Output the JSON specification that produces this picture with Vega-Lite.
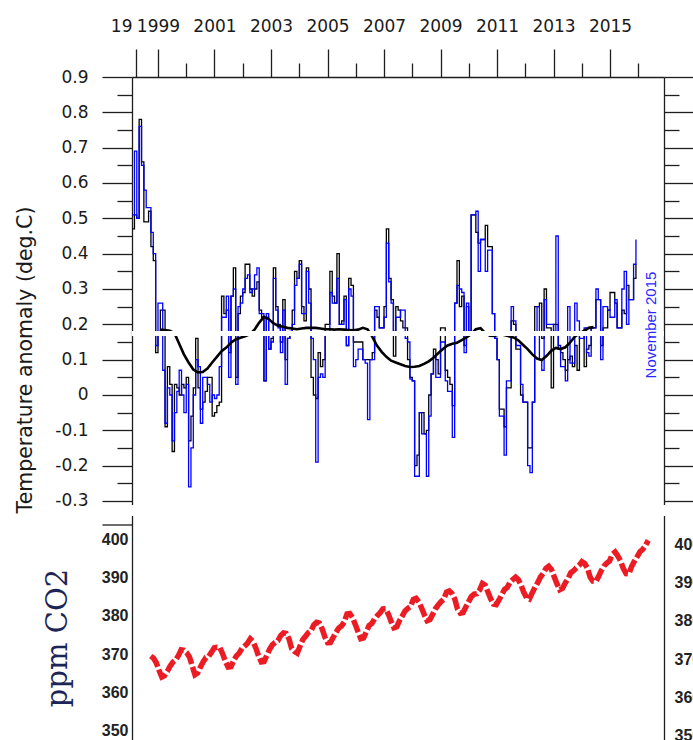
{
"$schema":"https://vega.github.io/schema/vega-lite/v6.json",
"background":"white",
"padding":{"left":15,"top":17,"right":0,"bottom":0},
"bounds":"flush",
"spacing":10.5,
"config":{"view":{"stroke":null},"axis":{"grid":false,"domainColor":"#1e1e1e","tickColor":"#1e1e1e","domainWidth":1.3,"tickWidth":1.3,"labelColor":"#1a1a1a","labelFont":"DejaVu Sans","labelFontSize":17,"titleColor":"#1a1a1a","labelOverlap":false,"labelFlush":false,"zindex":1}},
"datasets":{
"temp":[
{"t":1998.083,"s1":0.47,"s2":0.51},{"t":1998.167,"s1":0.51,"s2":0.69},{"t":1998.25,"s1":0.50,"s2":0.50},{"t":1998.333,"s1":0.78,"s2":0.76},{"t":1998.417,"s1":0.66,"s2":0.65},{"t":1998.5,"s1":0.49,"s2":0.58},{"t":1998.583,"s1":0.49,"s2":0.53},{"t":1998.667,"s1":0.52,"s2":0.53},{"t":1998.75,"s1":0.42,"s2":0.46},{"t":1998.833,"s1":0.38,"s2":0.40},{"t":1998.917,"s1":0.12,"s2":0.14},{"t":1999.0,"s1":0.18,"s2":0.26},
{"t":1999.083,"s1":0.24,"s2":0.26},{"t":1999.167,"s1":0.24,"s2":0.07},{"t":1999.25,"s1":-0.09,"s2":-0.08},{"t":1999.333,"s1":0.08,"s2":0.02},{"t":1999.417,"s1":0.03,"s2":0.00},{"t":1999.5,"s1":-0.16,"s2":-0.13},{"t":1999.583,"s1":0.03,"s2":-0.05},{"t":1999.667,"s1":0.02,"s2":0.01},{"t":1999.75,"s1":0.00,"s2":0.07},{"t":1999.833,"s1":0.03,"s2":0.00},{"t":1999.917,"s1":0.02,"s2":-0.05},{"t":2000.0,"s1":0.05,"s2":0.03},
{"t":2000.083,"s1":-0.13,"s2":-0.26},{"t":2000.167,"s1":-0.06,"s2":-0.15},{"t":2000.25,"s1":0.02,"s2":0.00},{"t":2000.333,"s1":0.16,"s2":0.10},{"t":2000.417,"s1":0.02,"s2":0.08},{"t":2000.5,"s1":-0.04,"s2":-0.08},{"t":2000.583,"s1":-0.02,"s2":0.05},{"t":2000.667,"s1":0.01,"s2":0.05},{"t":2000.75,"s1":0.05,"s2":0.03},{"t":2000.833,"s1":0.05,"s2":-0.02},{"t":2000.917,"s1":-0.06,"s2":0.00},{"t":2001.0,"s1":-0.05,"s2":-0.01},
{"t":2001.083,"s1":-0.03,"s2":0.00},{"t":2001.167,"s1":-0.02,"s2":0.08},{"t":2001.25,"s1":0.28,"s2":0.22},{"t":2001.333,"s1":0.23,"s2":0.22},{"t":2001.417,"s1":0.24,"s2":0.28},{"t":2001.5,"s1":0.12,"s2":0.05},{"t":2001.583,"s1":0.28,"s2":0.28},{"t":2001.667,"s1":0.36,"s2":0.30},{"t":2001.75,"s1":0.05,"s2":0.03},{"t":2001.833,"s1":0.23,"s2":0.25},{"t":2001.917,"s1":0.28,"s2":0.26},{"t":2002.0,"s1":0.29,"s2":0.30},
{"t":2002.083,"s1":0.37,"s2":0.33},{"t":2002.167,"s1":0.37,"s2":0.34},{"t":2002.25,"s1":0.30,"s2":0.29},{"t":2002.333,"s1":0.28,"s2":0.30},{"t":2002.417,"s1":0.30,"s2":0.34},{"t":2002.5,"s1":0.32,"s2":0.36},{"t":2002.583,"s1":0.24,"s2":0.23},{"t":2002.667,"s1":0.22,"s2":0.23},{"t":2002.75,"s1":0.04,"s2":0.04},{"t":2002.833,"s1":0.22,"s2":0.23},{"t":2002.917,"s1":0.13,"s2":0.13},{"t":2003.0,"s1":0.16,"s2":0.15},
{"t":2003.083,"s1":0.36,"s2":0.33},{"t":2003.167,"s1":0.25,"s2":0.24},{"t":2003.25,"s1":0.20,"s2":0.19},{"t":2003.333,"s1":0.15,"s2":0.12},{"t":2003.417,"s1":0.27,"s2":0.24},{"t":2003.5,"s1":0.10,"s2":0.03},{"t":2003.583,"s1":0.16,"s2":0.16},{"t":2003.667,"s1":0.17,"s2":0.18},{"t":2003.75,"s1":0.24,"s2":0.20},{"t":2003.833,"s1":0.35,"s2":0.31},{"t":2003.917,"s1":0.33,"s2":0.33},{"t":2004.0,"s1":0.38,"s2":0.37},
{"t":2004.083,"s1":0.25,"s2":0.23},{"t":2004.167,"s1":0.21,"s2":0.23},{"t":2004.25,"s1":0.36,"s2":0.35},{"t":2004.333,"s1":0.30,"s2":0.26},{"t":2004.417,"s1":0.05,"s2":0.16},{"t":2004.5,"s1":0.00,"s2":0.10},{"t":2004.583,"s1":-0.01,"s2":-0.19},{"t":2004.667,"s1":0.12,"s2":0.05},{"t":2004.75,"s1":0.08,"s2":0.06},{"t":2004.833,"s1":0.10,"s2":0.05},{"t":2004.917,"s1":0.20,"s2":0.17},{"t":2005.0,"s1":0.20,"s2":0.17},
{"t":2005.083,"s1":0.35,"s2":0.29},{"t":2005.167,"s1":0.28,"s2":0.26},{"t":2005.25,"s1":0.26,"s2":0.26},{"t":2005.333,"s1":0.40,"s2":0.33},{"t":2005.417,"s1":0.20,"s2":0.20},{"t":2005.5,"s1":0.21,"s2":0.20},{"t":2005.583,"s1":0.28,"s2":0.27},{"t":2005.667,"s1":0.14,"s2":0.14},{"t":2005.75,"s1":0.33,"s2":0.30},{"t":2005.833,"s1":0.31,"s2":0.28},{"t":2005.917,"s1":0.15,"s2":0.08},{"t":2006.0,"s1":0.15,"s2":0.10},
{"t":2006.083,"s1":0.15,"s2":0.13},{"t":2006.167,"s1":0.15,"s2":0.13},{"t":2006.25,"s1":0.10,"s2":0.10},{"t":2006.333,"s1":0.10,"s2":0.09},{"t":2006.417,"s1":0.10,"s2":-0.07},{"t":2006.5,"s1":0.10,"s2":0.10},{"t":2006.583,"s1":0.12,"s2":0.10},{"t":2006.667,"s1":0.24,"s2":0.25},{"t":2006.75,"s1":0.22,"s2":0.25},{"t":2006.833,"s1":0.19,"s2":0.19},{"t":2006.917,"s1":0.19,"s2":0.19},{"t":2007.0,"s1":0.25,"s2":0.22},
{"t":2007.083,"s1":0.47,"s2":0.43},{"t":2007.167,"s1":0.33,"s2":0.32},{"t":2007.25,"s1":0.27,"s2":0.26},{"t":2007.333,"s1":0.11,"s2":0.18},{"t":2007.417,"s1":0.25,"s2":0.22},{"t":2007.5,"s1":0.24,"s2":0.22},{"t":2007.583,"s1":0.21,"s2":0.24},{"t":2007.667,"s1":0.19,"s2":0.24},{"t":2007.75,"s1":0.19,"s2":0.16},{"t":2007.833,"s1":0.10,"s2":0.15},{"t":2007.917,"s1":0.05,"s2":0.045},{"t":2008.0,"s1":0.04,"s2":0.04},
{"t":2008.083,"s1":-0.20,"s2":-0.23},{"t":2008.167,"s1":-0.17,"s2":-0.23},{"t":2008.25,"s1":-0.05,"s2":-0.05},{"t":2008.333,"s1":-0.05,"s2":-0.11},{"t":2008.417,"s1":-0.11,"s2":-0.11},{"t":2008.5,"s1":-0.10,"s2":-0.23},{"t":2008.583,"s1":0.00,"s2":-0.06},{"t":2008.667,"s1":0.06,"s2":0.06},{"t":2008.75,"s1":0.13,"s2":0.11},{"t":2008.833,"s1":0.10,"s2":0.05},{"t":2008.917,"s1":0.06,"s2":0.05},{"t":2009.0,"s1":0.19,"s2":0.15},
{"t":2009.083,"s1":0.19,"s2":0.15},{"t":2009.167,"s1":0.07,"s2":0.04},{"t":2009.25,"s1":0.05,"s2":0.01},{"t":2009.333,"s1":0.03,"s2":0.01},{"t":2009.417,"s1":-0.03,"s2":-0.12},{"t":2009.5,"s1":0.26,"s2":0.26},{"t":2009.583,"s1":0.38,"s2":0.31},{"t":2009.667,"s1":0.25,"s2":0.30},{"t":2009.75,"s1":0.28,"s2":0.29},{"t":2009.833,"s1":0.14,"s2":0.12},{"t":2009.917,"s1":0.25,"s2":0.26},{"t":2010.0,"s1":0.18,"s2":0.17},
{"t":2010.083,"s1":0.51,"s2":0.51},{"t":2010.167,"s1":0.51,"s2":0.51},{"t":2010.25,"s1":0.46,"s2":0.52},{"t":2010.333,"s1":0.43,"s2":0.35},{"t":2010.417,"s1":0.44,"s2":0.44},{"t":2010.5,"s1":0.44,"s2":0.44},{"t":2010.583,"s1":0.48,"s2":0.35},{"t":2010.667,"s1":0.42,"s2":0.41},{"t":2010.75,"s1":0.42,"s2":0.41},{"t":2010.833,"s1":0.23,"s2":0.23},{"t":2010.917,"s1":0.16,"s2":0.16},{"t":2011.0,"s1":0.10,"s2":0.10},
{"t":2011.083,"s1":-0.04,"s2":-0.06},{"t":2011.167,"s1":-0.04,"s2":-0.06},{"t":2011.25,"s1":-0.09,"s2":-0.17},{"t":2011.333,"s1":0.02,"s2":0.04},{"t":2011.417,"s1":0.02,"s2":0.04},{"t":2011.5,"s1":0.21,"s2":0.25},{"t":2011.583,"s1":0.20,"s2":0.21},{"t":2011.667,"s1":0.13,"s2":0.14},{"t":2011.75,"s1":0.13,"s2":0.14},{"t":2011.833,"s1":0.00,"s2":0.03},{"t":2011.917,"s1":-0.02,"s2":-0.02},{"t":2012.0,"s1":-0.02,"s2":-0.02},
{"t":2012.083,"s1":-0.15,"s2":-0.20},{"t":2012.167,"s1":-0.15,"s2":-0.22},{"t":2012.25,"s1":-0.02,"s2":-0.02},{"t":2012.333,"s1":0.25,"s2":0.17},{"t":2012.417,"s1":0.25,"s2":0.25},{"t":2012.5,"s1":0.26,"s2":0.10},{"t":2012.583,"s1":0.16,"s2":0.07},{"t":2012.667,"s1":0.30,"s2":0.27},{"t":2012.75,"s1":0.19,"s2":0.20},{"t":2012.833,"s1":0.19,"s2":0.20},{"t":2012.917,"s1":0.02,"s2":0.20},{"t":2013.0,"s1":0.20,"s2":0.18},
{"t":2013.083,"s1":0.20,"s2":0.45},{"t":2013.167,"s1":0.13,"s2":0.14},{"t":2013.25,"s1":0.12,"s2":0.08},{"t":2013.333,"s1":0.10,"s2":0.08},{"t":2013.417,"s1":0.07,"s2":0.04},{"t":2013.5,"s1":0.10,"s2":0.25},{"t":2013.583,"s1":0.11,"s2":0.09},{"t":2013.667,"s1":0.08,"s2":0.09},{"t":2013.75,"s1":0.14,"s2":0.26},{"t":2013.833,"s1":0.07,"s2":0.21},{"t":2013.917,"s1":0.17,"s2":0.16},{"t":2014.0,"s1":0.17,"s2":0.16},
{"t":2014.083,"s1":0.08,"s2":0.19},{"t":2014.167,"s1":0.13,"s2":0.12},{"t":2014.25,"s1":0.14,"s2":0.11},{"t":2014.333,"s1":0.19,"s2":0.19},{"t":2014.417,"s1":0.19,"s2":0.19},{"t":2014.5,"s1":0.27,"s2":0.30},{"t":2014.583,"s1":0.27,"s2":0.27},{"t":2014.667,"s1":0.14,"s2":0.10},{"t":2014.75,"s1":0.19,"s2":0.25},{"t":2014.833,"s1":0.19,"s2":0.25},{"t":2014.917,"s1":0.24,"s2":0.24},{"t":2015.0,"s1":0.29,"s2":0.22},
{"t":2015.083,"s1":0.29,"s2":0.22},{"t":2015.167,"s1":0.26,"s2":0.27},{"t":2015.25,"s1":0.19,"s2":0.19},{"t":2015.333,"s1":0.19,"s2":0.19},{"t":2015.417,"s1":0.24,"s2":0.30},{"t":2015.5,"s1":0.23,"s2":0.35},{"t":2015.583,"s1":0.31,"s2":0.20},{"t":2015.667,"s1":0.27,"s2":0.27},{"t":2015.75,"s1":0.27,"s2":0.27},{"t":2015.833,"s1":0.33,"s2":0.37},{"t":2015.917,"s1":0.37,"s2":0.44}
],
"smooth":[
{"t":1999.083,"mean":0.185},{"t":1999.417,"mean":0.182},{"t":1999.583,"mean":0.175},{"t":1999.75,"mean":0.145},{"t":1999.917,"mean":0.115},{"t":2000.083,"mean":0.092},{"t":2000.25,"mean":0.072},{"t":2000.417,"mean":0.064},{"t":2000.583,"mean":0.065},{"t":2000.75,"mean":0.075},{"t":2000.917,"mean":0.092},{"t":2001.083,"mean":0.108},{"t":2001.25,"mean":0.124},{"t":2001.417,"mean":0.134},{"t":2001.583,"mean":0.148},{"t":2001.75,"mean":0.157},{"t":2001.917,"mean":0.162},{"t":2002.083,"mean":0.166},{"t":2002.25,"mean":0.172},{"t":2002.417,"mean":0.185},{"t":2002.583,"mean":0.205},{"t":2002.75,"mean":0.221},{"t":2002.917,"mean":0.215},{"t":2003.083,"mean":0.203},{"t":2003.25,"mean":0.196},{"t":2003.417,"mean":0.193},{"t":2003.583,"mean":0.19},{"t":2003.75,"mean":0.188},{"t":2003.917,"mean":0.186},{"t":2004.083,"mean":0.188},{"t":2004.25,"mean":0.19},{"t":2004.417,"mean":0.19},{"t":2004.583,"mean":0.19},{"t":2004.75,"mean":0.188},{"t":2004.917,"mean":0.186},{"t":2005.083,"mean":0.186},{"t":2005.25,"mean":0.185},{"t":2005.417,"mean":0.186},{"t":2005.583,"mean":0.185},{"t":2005.75,"mean":0.184},{"t":2005.917,"mean":0.183},{"t":2006.083,"mean":0.185},{"t":2006.25,"mean":0.19},{"t":2006.417,"mean":0.186},{"t":2006.583,"mean":0.165},{"t":2006.75,"mean":0.14},{"t":2006.917,"mean":0.122},{"t":2007.083,"mean":0.108},{"t":2007.25,"mean":0.097},{"t":2007.417,"mean":0.092},{"t":2007.583,"mean":0.087},{"t":2007.75,"mean":0.082},{"t":2007.917,"mean":0.079},{"t":2008.083,"mean":0.08},{"t":2008.25,"mean":0.082},{"t":2008.417,"mean":0.088},{"t":2008.583,"mean":0.095},{"t":2008.75,"mean":0.105},{"t":2008.917,"mean":0.118},{"t":2009.083,"mean":0.13},{"t":2009.25,"mean":0.14},{"t":2009.417,"mean":0.145},{"t":2009.583,"mean":0.148},{"t":2009.75,"mean":0.155},{"t":2009.917,"mean":0.163},{"t":2010.083,"mean":0.172},{"t":2010.25,"mean":0.186},{"t":2010.417,"mean":0.189},{"t":2010.583,"mean":0.175},{"t":2010.75,"mean":0.168},{"t":2010.917,"mean":0.167},{"t":2011.083,"mean":0.172},{"t":2011.25,"mean":0.17},{"t":2011.417,"mean":0.166},{"t":2011.583,"mean":0.163},{"t":2011.75,"mean":0.155},{"t":2011.917,"mean":0.142},{"t":2012.083,"mean":0.13},{"t":2012.25,"mean":0.115},{"t":2012.417,"mean":0.103},{"t":2012.583,"mean":0.099},{"t":2012.75,"mean":0.11},{"t":2012.917,"mean":0.125},{"t":2013.083,"mean":0.133},{"t":2013.25,"mean":0.13},{"t":2013.417,"mean":0.135},{"t":2013.583,"mean":0.148},{"t":2013.75,"mean":0.165},{"t":2013.917,"mean":0.174},{"t":2014.083,"mean":0.182},{"t":2014.25,"mean":0.19},{"t":2014.417,"mean":0.192}
],
"band":[{"level":0.174}],
"note":[{"t":2016.45,"v":0.198,"text":"November 2015"}],
"co2":[
{"t":1998.375,"ppm":369.49},{"t":1998.458,"ppm":368.95},{"t":1998.542,"ppm":367.74},{"t":1998.625,"ppm":365.79},{"t":1998.708,"ppm":364.02},{"t":1998.792,"ppm":364.40},{"t":1998.875,"ppm":365.52},{"t":1998.958,"ppm":366.84},
{"t":1999.042,"ppm":367.92},{"t":1999.125,"ppm":368.49},{"t":1999.208,"ppm":369.59},{"t":1999.292,"ppm":371.14},{"t":1999.375,"ppm":371.00},{"t":1999.458,"ppm":370.35},{"t":1999.542,"ppm":369.27},{"t":1999.625,"ppm":366.94},{"t":1999.708,"ppm":364.63},{"t":1999.792,"ppm":365.12},{"t":1999.875,"ppm":366.67},{"t":1999.958,"ppm":368.01},
{"t":2000.042,"ppm":369.14},{"t":2000.125,"ppm":369.46},{"t":2000.208,"ppm":370.52},{"t":2000.292,"ppm":371.66},{"t":2000.375,"ppm":371.82},{"t":2000.458,"ppm":371.70},{"t":2000.542,"ppm":370.12},{"t":2000.625,"ppm":368.12},{"t":2000.708,"ppm":366.62},{"t":2000.792,"ppm":366.73},{"t":2000.875,"ppm":368.29},{"t":2000.958,"ppm":369.53},
{"t":2001.042,"ppm":370.28},{"t":2001.125,"ppm":371.50},{"t":2001.208,"ppm":372.12},{"t":2001.292,"ppm":372.87},{"t":2001.375,"ppm":374.02},{"t":2001.458,"ppm":373.30},{"t":2001.542,"ppm":371.62},{"t":2001.625,"ppm":369.55},{"t":2001.708,"ppm":367.96},{"t":2001.792,"ppm":368.09},{"t":2001.875,"ppm":369.68},{"t":2001.958,"ppm":371.24},
{"t":2002.042,"ppm":372.44},{"t":2002.125,"ppm":373.08},{"t":2002.208,"ppm":373.52},{"t":2002.292,"ppm":374.85},{"t":2002.375,"ppm":375.55},{"t":2002.458,"ppm":375.40},{"t":2002.542,"ppm":374.02},{"t":2002.625,"ppm":371.48},{"t":2002.708,"ppm":370.71},{"t":2002.792,"ppm":370.24},{"t":2002.875,"ppm":372.08},{"t":2002.958,"ppm":373.78},
{"t":2003.042,"ppm":374.68},{"t":2003.125,"ppm":375.62},{"t":2003.208,"ppm":376.11},{"t":2003.292,"ppm":377.65},{"t":2003.375,"ppm":378.35},{"t":2003.458,"ppm":378.13},{"t":2003.542,"ppm":376.62},{"t":2003.625,"ppm":374.50},{"t":2003.708,"ppm":373.00},{"t":2003.792,"ppm":373.03},{"t":2003.875,"ppm":374.35},{"t":2003.958,"ppm":375.69},
{"t":2004.042,"ppm":376.79},{"t":2004.125,"ppm":377.37},{"t":2004.208,"ppm":378.41},{"t":2004.292,"ppm":380.52},{"t":2004.375,"ppm":380.63},{"t":2004.458,"ppm":379.57},{"t":2004.542,"ppm":377.79},{"t":2004.625,"ppm":375.86},{"t":2004.708,"ppm":374.06},{"t":2004.792,"ppm":374.24},{"t":2004.875,"ppm":375.86},{"t":2004.958,"ppm":377.48},
{"t":2005.042,"ppm":378.03},{"t":2005.125,"ppm":379.27},{"t":2005.208,"ppm":380.12},{"t":2005.292,"ppm":380.85},{"t":2005.375,"ppm":381.85},{"t":2005.458,"ppm":381.89},{"t":2005.542,"ppm":380.44},{"t":2005.625,"ppm":378.48},{"t":2005.708,"ppm":376.89},{"t":2005.792,"ppm":377.14},{"t":2005.875,"ppm":378.75},{"t":2005.958,"ppm":379.98},
{"t":2006.042,"ppm":381.32},{"t":2006.125,"ppm":381.98},{"t":2006.208,"ppm":382.45},{"t":2006.292,"ppm":384.36},{"t":2006.375,"ppm":384.62},{"t":2006.458,"ppm":383.69},{"t":2006.542,"ppm":382.09},{"t":2006.625,"ppm":380.28},{"t":2006.708,"ppm":378.74},{"t":2006.792,"ppm":379.06},{"t":2006.875,"ppm":380.40},{"t":2006.958,"ppm":381.89},
{"t":2007.042,"ppm":382.87},{"t":2007.125,"ppm":383.72},{"t":2007.208,"ppm":384.34},{"t":2007.292,"ppm":386.24},{"t":2007.375,"ppm":386.52},{"t":2007.458,"ppm":385.87},{"t":2007.542,"ppm":384.44},{"t":2007.625,"ppm":381.78},{"t":2007.708,"ppm":380.71},{"t":2007.792,"ppm":380.89},{"t":2007.875,"ppm":382.33},{"t":2007.958,"ppm":383.70},
{"t":2008.042,"ppm":385.07},{"t":2008.125,"ppm":385.72},{"t":2008.208,"ppm":385.84},{"t":2008.292,"ppm":386.77},{"t":2008.375,"ppm":388.49},{"t":2008.458,"ppm":388.06},{"t":2008.542,"ppm":386.26},{"t":2008.625,"ppm":384.47},{"t":2008.708,"ppm":383.09},{"t":2008.792,"ppm":382.95},{"t":2008.875,"ppm":384.19},{"t":2008.958,"ppm":385.56},
{"t":2009.042,"ppm":386.94},{"t":2009.125,"ppm":387.48},{"t":2009.208,"ppm":388.82},{"t":2009.292,"ppm":389.55},{"t":2009.375,"ppm":390.14},{"t":2009.458,"ppm":389.48},{"t":2009.542,"ppm":388.03},{"t":2009.625,"ppm":386.11},{"t":2009.708,"ppm":384.74},{"t":2009.792,"ppm":384.43},{"t":2009.875,"ppm":386.02},{"t":2009.958,"ppm":387.42},
{"t":2010.042,"ppm":388.71},{"t":2010.125,"ppm":390.20},{"t":2010.208,"ppm":391.17},{"t":2010.292,"ppm":392.46},{"t":2010.375,"ppm":393.00},{"t":2010.458,"ppm":392.15},{"t":2010.542,"ppm":390.20},{"t":2010.625,"ppm":388.35},{"t":2010.708,"ppm":386.85},{"t":2010.792,"ppm":387.24},{"t":2010.875,"ppm":388.67},{"t":2010.958,"ppm":389.79},
{"t":2011.042,"ppm":391.33},{"t":2011.125,"ppm":391.86},{"t":2011.208,"ppm":392.60},{"t":2011.292,"ppm":393.25},{"t":2011.375,"ppm":394.19},{"t":2011.458,"ppm":393.74},{"t":2011.542,"ppm":392.51},{"t":2011.625,"ppm":390.13},{"t":2011.708,"ppm":389.08},{"t":2011.792,"ppm":389.00},{"t":2011.875,"ppm":390.28},{"t":2011.958,"ppm":391.86},
{"t":2012.042,"ppm":393.12},{"t":2012.125,"ppm":393.86},{"t":2012.208,"ppm":394.40},{"t":2012.292,"ppm":396.18},{"t":2012.375,"ppm":396.74},{"t":2012.458,"ppm":395.71},{"t":2012.542,"ppm":394.36},{"t":2012.625,"ppm":392.39},{"t":2012.708,"ppm":391.11},{"t":2012.792,"ppm":391.05},{"t":2012.875,"ppm":392.98},{"t":2012.958,"ppm":394.34},
{"t":2013.042,"ppm":395.55},{"t":2013.125,"ppm":396.80},{"t":2013.208,"ppm":397.43},{"t":2013.292,"ppm":398.41},{"t":2013.375,"ppm":399.78}
]
},
"vconcat":[
{
"width":532,"height":427.5,
"layer":[
{"data":{"name":"temp"},"mark":{"type":"line","interpolate":"step-after","color":"#000000","strokeWidth":1.3},
"encoding":{
"x":{"field":"t","type":"quantitative","scale":{"domain":[1998.08,2016.91],"nice":false,"zero":false},
"axis":{"orient":"top","values":[1998.22,1999,2001,2003,2005,2007,2009,2011,2013,2015],"tickSize":28,"labelPadding":14,"labelExpr":"datum.value < 1998.5 ? '19' : '' + datum.value","labelAlign":{"condition":{"test":"datum.value < 1998.5","value":"right"},"value":"center"},"labelOffset":{"condition":{"test":"datum.value < 1998.5","value":-4},"value":0},"title":null}},
"y":{"field":"s1","type":"quantitative","scale":{"domain":[-0.31,0.9],"nice":false,"zero":false},
"axis":{"orient":"left","values":[-0.3,-0.2,-0.1,0,0.1,0.2,0.3,0.4,0.5,0.6,0.7,0.8,0.9],"tickSize":30,"labelPadding":14,"labelExpr":"'' + datum.value","title":"Temperature anomaly (deg.C)","titleFont":"DejaVu Sans","titleFontSize":20.5,"titleFontWeight":"normal","titleX":-97,"titleY":282.5,"titleAngle":270,"titleBaseline":"bottom","titleAlign":"center"}}
}},
{"data":{"name":"temp"},"mark":{"type":"line","interpolate":"step-after","color":"#0000ff","strokeWidth":1.3},
"encoding":{
"x":{"field":"t","type":"quantitative","scale":{"domain":[1998.08,2016.91],"nice":false,"zero":false},
"axis":{"orient":"top","values":[2000,2002,2004,2006,2008,2010,2012,2014,2016],"tickSize":14,"labels":false,"domain":false,"title":null}},
"y":{"field":"s2","type":"quantitative","scale":{"domain":[-0.31,0.9],"nice":false,"zero":false},
"axis":{"orient":"left","values":[-0.25,-0.15,-0.05,0.05,0.15,0.25,0.35,0.45,0.55,0.65,0.75,0.85],"tickSize":15,"labels":false,"domain":false,"title":null}}
}},
{"data":{"name":"smooth"},"mark":{"type":"line","color":"#000000","strokeWidth":2.6},
"encoding":{
"x":{"field":"t","type":"quantitative","scale":{"domain":[1998.08,2016.91],"nice":false,"zero":false},"axis":null},
"y":{"field":"mean","type":"quantitative","scale":{"domain":[-0.31,0.9],"nice":false,"zero":false},
"axis":{"orient":"right","values":[-0.3,-0.2,-0.1,0,0.1,0.2,0.3,0.4,0.5,0.6,0.7,0.8,0.9],"tickSize":30,"labels":false,"domain":true,"title":null}}
}},
{"data":{"name":"band"},"mark":{"type":"rule","color":"#ffffff","strokeWidth":5},
"encoding":{
"y":{"field":"level","type":"quantitative","scale":{"domain":[-0.31,0.9],"nice":false,"zero":false},
"axis":{"orient":"right","values":[-0.25,-0.15,-0.05,0.05,0.15,0.25,0.35,0.45,0.55,0.65,0.75,0.85],"tickSize":15,"labels":false,"domain":false,"title":null}}
}},
{"data":{"name":"note"},"mark":{"type":"text","angle":270,"font":"Liberation Sans","fontSize":15,"color":"#2828ff","align":"center","baseline":"middle"},
"encoding":{
"x":{"field":"t","type":"quantitative","scale":{"domain":[1998.08,2016.91],"nice":false,"zero":false},"axis":null},
"y":{"field":"v","type":"quantitative","scale":{"domain":[-0.31,0.9],"nice":false,"zero":false},"axis":null},
"text":{"field":"text"}
}}
],
"resolve":{"axis":{"x":"independent","y":"independent"}}
},
{
"width":532,"height":226.5,
"layer":[
{"data":{"name":"co2"},"mark":{"type":"line","color":"#ec1c24","strokeWidth":5.5,"strokeDash":[13,3],"strokeCap":"butt"},
"encoding":{
"x":{"field":"t","type":"quantitative","scale":{"domain":[1997.81,2013.85],"nice":false,"zero":false},"axis":null},
"y":{"field":"ppm","type":"quantitative","scale":{"domain":[347,406.3],"nice":false,"zero":false},
"axis":{"orient":"left","values":[350,360,370,380,390,400],"tickSize":0,"labelPadding":4,"labelFont":"Liberation Sans","labelFontWeight":"bold","labelFontSize":16,"labelColor":"#222222","domain":true,"title":"ppm  CO2","titleFont":"DejaVu Serif","titleFontSize":29,"titleFontWeight":"normal","titleColor":"#1d2456","titleX":-66,"titleY":122,"titleAngle":270,"titleBaseline":"alphabetic","titleAlign":"center"}}
}},
{"data":{"name":"co2"},"mark":{"type":"line","opacity":0},
"encoding":{
"x":{"field":"t","type":"quantitative","scale":{"domain":[1997.81,2013.85],"nice":false,"zero":false},"axis":null},
"y":{"field":"ppm","type":"quantitative","scale":{"domain":[347,406.3],"nice":false,"zero":false},
"axis":{"orient":"left","values":[404],"tickSize":30,"labels":false,"domain":false,"title":null}}
}},
{"data":{"name":"co2"},"mark":{"type":"line","opacity":0},
"encoding":{
"x":{"field":"t","type":"quantitative","scale":{"domain":[1997.81,2013.85],"nice":false,"zero":false},"axis":null},
"y":{"field":"ppm","type":"quantitative","scale":{"domain":[347,406.3],"nice":false,"zero":false},
"axis":{"orient":"right","values":[350,360,370,380,390,400],"tickSize":0,"labelPadding":10,"labelOffset":5,"labelFont":"Liberation Sans","labelFontWeight":"bold","labelFontSize":16,"labelColor":"#222222","domain":true,"title":null}}
}}
],
"resolve":{"axis":{"y":"independent"}}
}
]
}
